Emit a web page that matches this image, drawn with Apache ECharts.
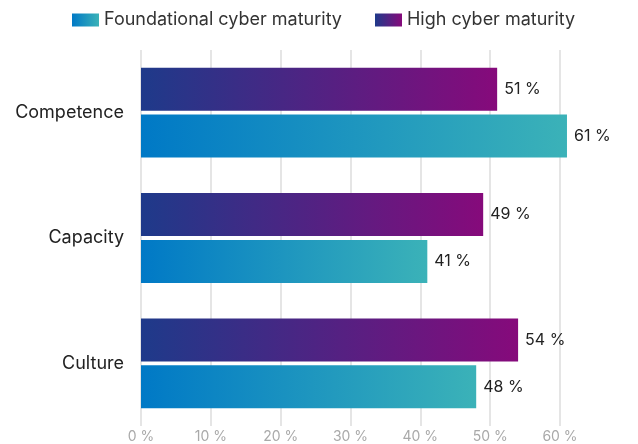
<!DOCTYPE html>
<html>
<head>
<meta charset="utf-8">
<script src="https://cdn.jsdelivr.net/npm/echarts@6/dist/echarts.min.js"></script>
<style>
  html, body { margin: 0; padding: 0; background: #fff; }
  #main { width: 638px; height: 444px; }
</style>
</head>
<body>
<div id="main"></div>
<script>
// categories, top to bottom
var categories = ['Competence', 'Capacity', 'Culture'];
var foundational = [61, 41, 48];
var high = [51, 49, 54];
var xTicks = [0, 10, 20, 30, 40, 50, 60];

var chart = echarts.init(document.getElementById('main'));

function grad(c0, c1) {
  return new echarts.graphic.LinearGradient(0, 0, 1, 0, [
    { offset: 0, color: c0 },
    { offset: 1, color: c1 }
  ]);
}

var font = 'Inter, "Noto Sans", sans-serif';

var option = {
  animation: false,
  textStyle: { fontFamily: font },
  legend: {
    top: 6,
    left: 67,
    itemWidth: 27,
    itemHeight: 13,
    itemGap: 33,
    icon: 'rect',
    textStyle: { fontSize: 18, color: '#333', fontFamily: font },
    data: ['Foundational cyber maturity', 'High cyber maturity']
  },
  grid: {
    left: 141,
    right: 78,
    top: 50,
    bottom: 17,
    containLabel: false
  },
  xAxis: {
    type: 'value',
    min: xTicks[0],
    max: xTicks[xTicks.length - 1],
    interval: 10,
    axisLine: { show: false },
    axisTick: { show: false },
    splitLine: { lineStyle: { color: '#dcdcdc', width: 1.5 } },
    axisLabel: {
      margin: 4,
      color: '#a9a9a9',
      fontSize: 14,
      fontFamily: font,
      formatter: '{value} %'
    }
  },
  yAxis: {
    type: 'category',
    inverse: true,
    data: categories,
    axisLine: { show: false },
    axisTick: { show: false },
    axisLabel: { margin: 17, color: '#222', fontSize: 18, fontFamily: font }
  },
  series: [
    {
      name: 'High cyber maturity',
      type: 'bar',
      clip: false,
      barWidth: 43,
      barGap: '9%',
      data: high,
      itemStyle: { color: grad('#1e3a8a', '#860a7b') },
      label: {
        show: true,
        position: 'right',
        distance: 7,
        color: '#222',
        fontSize: 16,
        fontFamily: font,
        formatter: '{c} %'
      }
    },
    {
      name: 'Foundational cyber maturity',
      type: 'bar',
      clip: false,
      barWidth: 43,
      barGap: '9%',
      data: foundational,
      itemStyle: { color: grad('#0079c6', '#3bb2b8') },
      label: {
        show: true,
        position: 'right',
        distance: 7,
        color: '#222',
        fontSize: 16,
        fontFamily: font,
        formatter: '{c} %'
      }
    }
  ]
};

chart.setOption(option);
</script>
</body>
</html>
